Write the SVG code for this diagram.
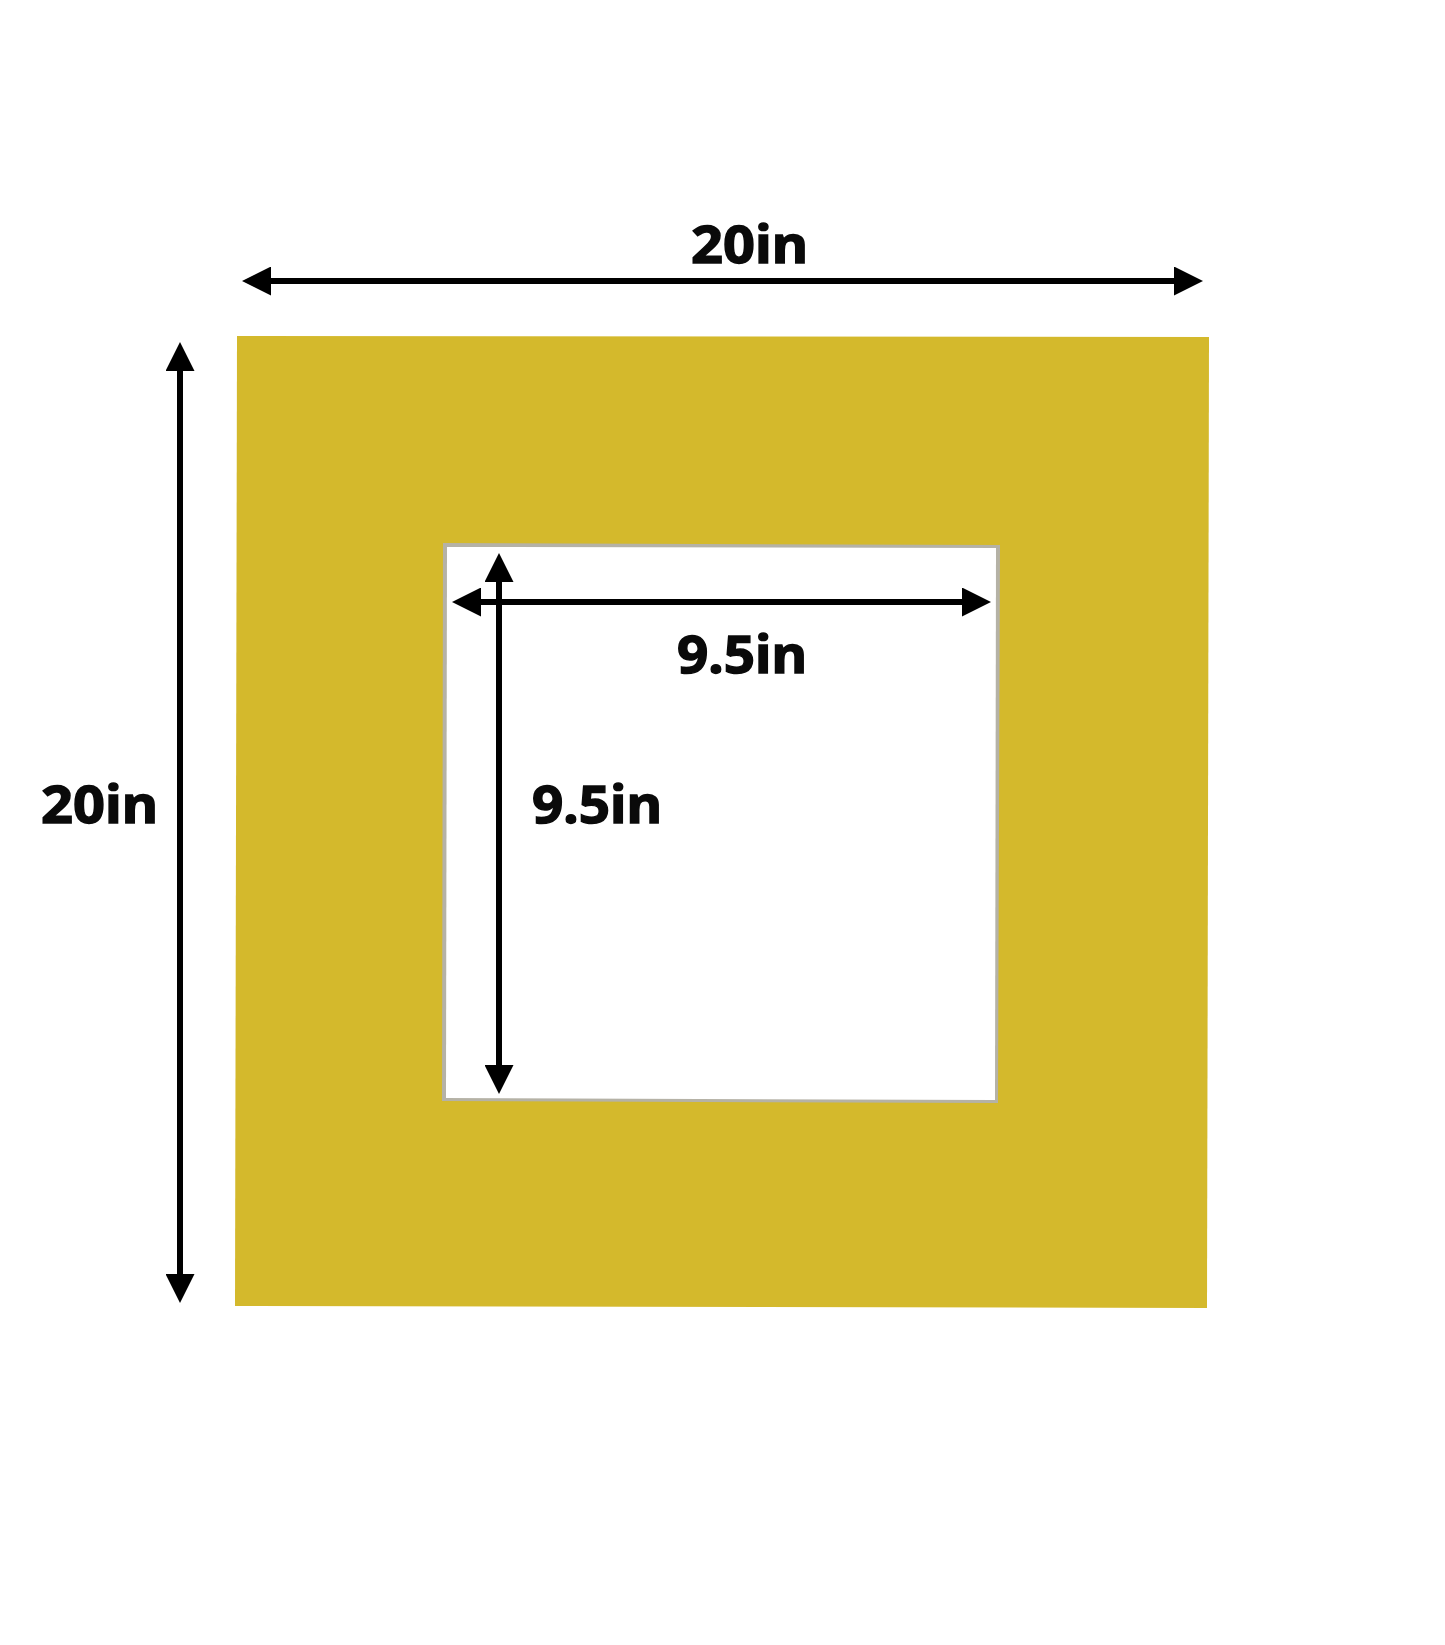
<svg xmlns="http://www.w3.org/2000/svg" width="1445" height="1645" viewBox="0 0 1445 1645">
<style>
.dim{stroke:#000;stroke-width:6;fill:none;marker-start:url(#ah);marker-end:url(#ah)}
.lbl{font-family:"Noto Sans","Liberation Sans",sans-serif;font-weight:700;font-size:52px;fill:#0a0a0a;stroke:#0a0a0a;stroke-width:1.4}
</style>
<defs>
<marker id="ah" viewBox="0 0 29 29" markerWidth="29" markerHeight="29" markerUnits="userSpaceOnUse" refX="1" refY="14.5" orient="auto-start-reverse">
<path d="M0,0 L29,14.5 L0,29 z" fill="#000"/>
</marker>
</defs>
<rect width="1445" height="1645" fill="#fff"/>
<g id="mat">
<polygon points="237,336 1209,337 1207,1308 235,1306" fill="#D4B92C"/>
</g>
<g id="window">
<polygon points="443,543 1000,545 998,1103 442,1101" fill="#B5B2A6"/>
<polygon points="447,547 996,548 995,1100 446,1098" fill="#fff"/>
</g>
<g id="connectors">
<line class="dim" x1="270" y1="281" x2="1175" y2="281"/>
<line class="dim" x1="180" y1="370" x2="180" y2="1275"/>
<line class="dim" x1="480" y1="602" x2="963" y2="602"/>
<line class="dim" x1="499" y1="581" x2="499" y2="1066"/>
</g>
<g id="labels">
<text class="lbl" x="691" y="263" textLength="117" lengthAdjust="spacingAndGlyphs">20in</text>
<text class="lbl" x="41" y="823" textLength="117" lengthAdjust="spacingAndGlyphs">20in</text>
<text class="lbl" x="677" y="673" textLength="130" lengthAdjust="spacingAndGlyphs">9.5in</text>
<text class="lbl" x="532" y="823" textLength="130" lengthAdjust="spacingAndGlyphs">9.5in</text>
</g>
</svg>
